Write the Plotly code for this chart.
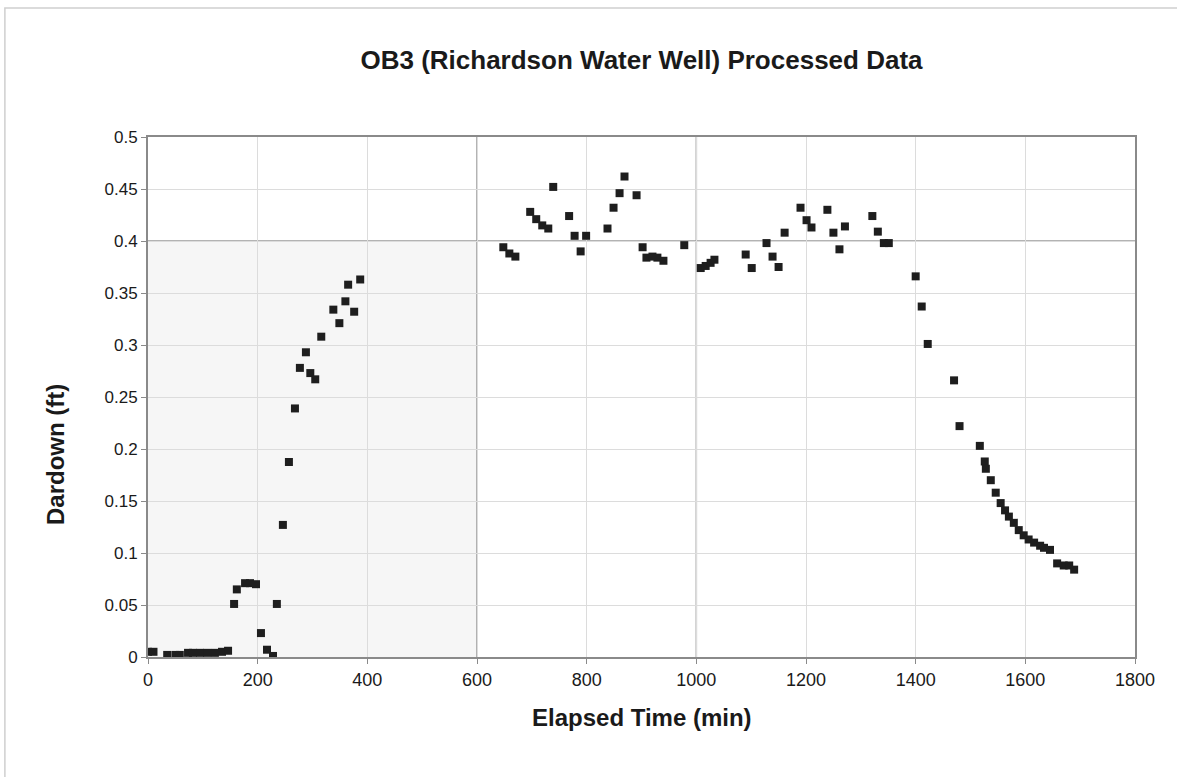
import plotly.graph_objects as go

elapsed_min = [0, 10, 35, 50, 58, 73, 82, 95, 108, 122, 135, 146,
               157, 162, 177, 186, 197, 206, 217, 228, 235, 246,
               257, 268, 277, 288, 296, 305, 316, 338, 349, 360, 365, 376, 387,
               648, 659, 670, 697, 708, 719, 730, 739, 768, 778, 789, 799,
               838, 849, 860, 869, 891, 902, 909, 920, 929, 940, 978,
               1008, 1017, 1026, 1033, 1090, 1101, 1128, 1139, 1150, 1161,
               1190, 1201, 1210, 1239, 1250, 1261, 1271, 1321, 1331, 1342, 1351,
               1400, 1411, 1422, 1470, 1480, 1517, 1526, 1528, 1537, 1546, 1555,
               1563, 1570, 1579, 1588, 1597, 1606, 1616, 1627, 1634, 1645,
               1658, 1670, 1680, 1689]
drawdown_ft = [0.005, 0.005, 0.002, 0.002, 0.002, 0.004, 0.004, 0.004, 0.004, 0.004, 0.005, 0.006,
               0.051, 0.065, 0.071, 0.071, 0.070, 0.023, 0.007, 0.001, 0.051, 0.127,
               0.1875, 0.239, 0.278, 0.293, 0.273, 0.267, 0.308, 0.334, 0.321, 0.342, 0.358, 0.332, 0.363,
               0.394, 0.388, 0.385, 0.428, 0.421, 0.415, 0.412, 0.452, 0.424, 0.405, 0.390, 0.405,
               0.412, 0.432, 0.446, 0.462, 0.444, 0.394, 0.384, 0.385, 0.384, 0.381, 0.396,
               0.374, 0.376, 0.379, 0.382, 0.387, 0.374, 0.398, 0.385, 0.375, 0.408,
               0.432, 0.420, 0.413, 0.430, 0.408, 0.392, 0.414, 0.424, 0.409, 0.398, 0.398,
               0.366, 0.337, 0.301, 0.266, 0.222, 0.203, 0.188, 0.181, 0.170, 0.158, 0.148,
               0.141, 0.135, 0.129, 0.122, 0.117, 0.113, 0.110, 0.107, 0.105, 0.103,
               0.090, 0.088, 0.088, 0.084]

title_text = "OB3 (Richardson Water Well) Processed Data"
x_title = "Elapsed Time (min)"
y_title = "Dardown (ft)"

FONT = "Liberation Sans, Arial, sans-serif"

fig = go.Figure()
fig.add_trace(go.Scatter(
    x=elapsed_min, y=drawdown_ft, mode="markers",
    marker=dict(symbol="square", size=8, color="#1e1e1e", line=dict(width=0)),
    showlegend=False,
))

shapes = [
    # shaded lower-left quadrant
    dict(type="rect", xref="x", yref="y", x0=0, x1=600, y0=0, y1=0.4,
         fillcolor="#f6f6f6", line=dict(width=0), layer="below"),
    # darker reference lines
    dict(type="line", xref="x", yref="y", x0=600, x1=600, y0=0, y1=0.5,
         line=dict(color="#9a9a9a", width=1.5), layer="below"),
    dict(type="line", xref="x", yref="y", x0=1000, x1=1000, y0=0, y1=0.5,
         line=dict(color="#9a9a9a", width=1.5), layer="below"),
    dict(type="line", xref="x", yref="y", x0=0, x1=1800, y0=0.4, y1=0.4,
         line=dict(color="#9a9a9a", width=1.5), layer="below"),
    # chart-area frame (top and left edges visible)
    dict(type="rect", xref="paper", yref="paper", x0=-0.145, x1=1.2, y0=-0.4, y1=1.248,
         line=dict(color="#cfcfcf", width=1.5), fillcolor="rgba(0,0,0,0)", layer="below"),
]

fig.update_layout(
    width=1177, height=777,
    margin=dict(l=148, r=42, t=137, b=120),
    paper_bgcolor="white", plot_bgcolor="white",
    font=dict(family=FONT, color="#1a1a1a"),
    title=dict(text="<b>" + title_text + "</b>", x=0.5, xref="paper", xanchor="center",
               y=1 - 60 / 777, yref="container", yanchor="middle",
               font=dict(size=26, family=FONT, color="#1a1a1a")),
    shapes=shapes,
    annotations=[
        dict(text="<b>" + x_title + "</b>", xref="paper", yref="paper", x=0.5, y=-(717 - 657) / 520,
             xanchor="center", yanchor="middle", showarrow=False,
             font=dict(size=24, family=FONT, color="#1a1a1a")),
        dict(text="<b>" + y_title + "</b>", xref="paper", yref="paper", x=-(148 - 55) / 987,
             y=(657 - 455) / 520,
             xanchor="center", yanchor="middle", showarrow=False, textangle=-90,
             font=dict(size=24, family=FONT, color="#1a1a1a")),
    ],
)
fig.update_xaxes(range=[0, 1800], dtick=200, tick0=0, showgrid=True, gridcolor="#dcdcdc", gridwidth=1,
                 zeroline=False, showline=True, linecolor="#8a8a8a", linewidth=2, mirror=True,
                 ticks="outside", ticklen=5, tickcolor="#8a8a8a",
                 tickfont=dict(size=18, family=FONT, color="#1a1a1a"))
fig.update_yaxes(range=[0, 0.5], dtick=0.05, tick0=0, showgrid=True, gridcolor="#dcdcdc", gridwidth=1,
                 zeroline=False, showline=True, linecolor="#8a8a8a", linewidth=2, mirror=True,
                 ticks="outside", ticklen=5, tickcolor="#8a8a8a",
                 tickfont=dict(size=17, family=FONT, color="#1a1a1a"))

fig.write_html("out.html")
